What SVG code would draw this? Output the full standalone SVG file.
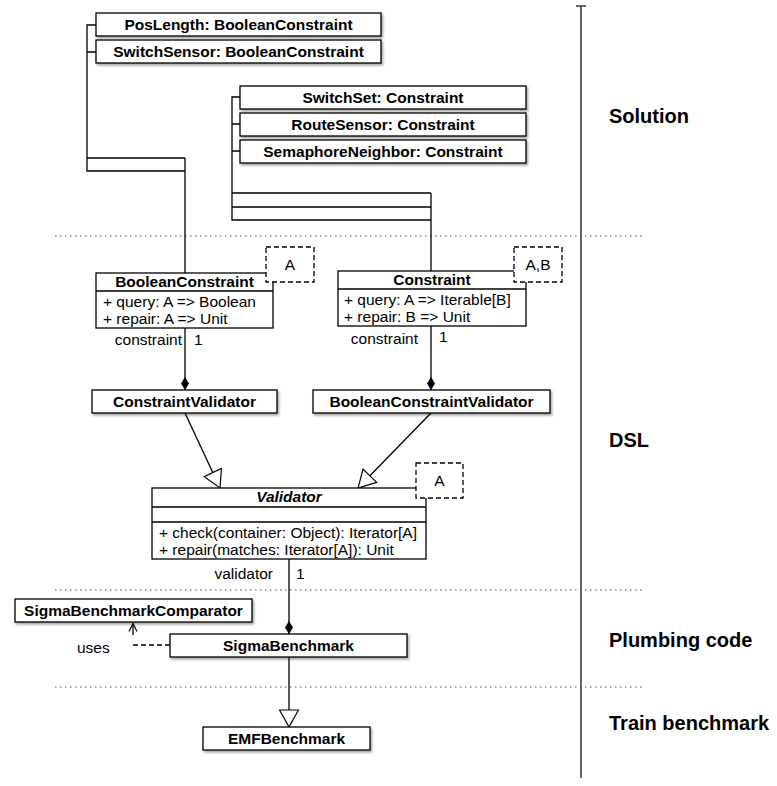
<svg xmlns="http://www.w3.org/2000/svg" width="777" height="786" viewBox="0 0 777 786">
<defs>
<style>
.box{fill:#fff;stroke:#000;stroke-width:1.3}
.sh{filter:url(#shadow)}
.tpl{fill:#fff;stroke:#000;stroke-width:1.3;stroke-dasharray:5,3}
.name{font-family:"Liberation Sans",Arial,Helvetica,sans-serif;font-size:15.5px;font-weight:bold;text-anchor:middle;fill:#000}
.ital{font-style:italic}
.txt{font-family:"Liberation Sans",Arial,Helvetica,sans-serif;font-size:15.5px;fill:#000}
.end{text-anchor:end}
.mid{text-anchor:middle}
.sec{font-family:"Liberation Sans",Arial,Helvetica,sans-serif;font-size:20px;font-weight:bold;fill:#000}
.ln{fill:none;stroke:#000;stroke-width:1.3}
.dash{stroke-dasharray:5,3}
.dot{fill:none;stroke:#555;stroke-width:1.2;stroke-dasharray:1.5,3.5}
.axis{fill:none;stroke:#333;stroke-width:1.5}
</style>
<filter id="shadow" x="-10%" y="-40%" width="125%" height="200%">
<feDropShadow dx="1.5" dy="2" stdDeviation="1.2" flood-color="#000" flood-opacity="0.35"/>
</filter>
<marker id="diamond" markerUnits="userSpaceOnUse" viewBox="0 0 13 8" refX="13" refY="4" markerWidth="13" markerHeight="8" orient="auto">
<path d="M0,4 L6.5,0 L13,4 L6.5,8 Z" fill="#000" stroke="none"/>
</marker>
<marker id="tri" markerUnits="userSpaceOnUse" viewBox="-1 -1 19 21" refX="17" refY="9.5" markerWidth="19" markerHeight="21" orient="auto">
<path d="M0,0 L17,9.5 L0,19 Z" fill="#fff" stroke="#000" stroke-width="1.2" stroke-dasharray="none"/>
</marker>
<marker id="open" markerUnits="userSpaceOnUse" viewBox="-1 -1 10 10" refX="8" refY="4" markerWidth="10" markerHeight="10" orient="auto">
<path d="M0,0 L8,4 L0,8" fill="none" stroke="#000" stroke-width="1.2" stroke-dasharray="none"/>
</marker>
</defs>
<rect width="777" height="786" fill="#fff"/>

<g id="layers">
<path class="axis" d="M581,6 V778 M576,6 H586"/>
<path class="dot" d="M55,236 H645 M55,590 H645 M55,687 H645"/>
<text class="sec" x="609" y="123">Solution</text>
<text class="sec" x="609" y="447">DSL</text>
<text class="sec" x="609" y="647">Plumbing code</text>
<text class="sec" x="609" y="730">Train benchmark</text>
</g>

<g id="connectors">
<path class="ln" d="M96,25 H87 V171 H185 M87,158 H185 M96,52 H87 M185,158 V273"/>
<path class="ln" d="M240,97 H232 V220 H431 M232,193 H431 M232,207 H431 M240,124 H232 M240,151 H232 M431,193 V271"/>
<path class="ln" d="M185,328 V390" marker-end="url(#diamond)"/>
<path class="ln" d="M431,326 V390" marker-end="url(#diamond)"/>
<path class="ln" d="M185,413 L220,488" marker-end="url(#tri)"/>
<path class="ln" d="M431,413 L358,488" marker-end="url(#tri)"/>
<path class="ln" d="M289,559 V634" marker-end="url(#diamond)"/>
<path class="ln" d="M289,657 V727" marker-end="url(#tri)"/>
<path class="ln dash" d="M170,645 H133"/>
<path class="ln" d="M133,635 V623.5" marker-end="url(#open)"/>
<text class="txt end" x="182" y="345">constraint</text>
<text class="txt" x="194" y="345">1</text>
<text class="txt end" x="418" y="344">constraint</text>
<text class="txt" x="439" y="342">1</text>
<text class="txt end" x="273" y="579">validator</text>
<text class="txt" x="296" y="579">1</text>
<text class="txt" x="77" y="653">uses</text>
</g>

<g id="PosLength">
<rect class="box sh" x="96" y="13" width="285" height="23"/>
<text class="name" x="238.5" y="30">PosLength: BooleanConstraint</text>
</g>
<g id="SwitchSensor">
<rect class="box sh" x="96" y="40" width="285" height="23"/>
<text class="name" x="238.5" y="57">SwitchSensor: BooleanConstraint</text>
</g>
<g id="SwitchSet">
<rect class="box sh" x="240" y="86" width="286" height="23"/>
<text class="name" x="383" y="103">SwitchSet: Constraint</text>
</g>
<g id="RouteSensor">
<rect class="box sh" x="240" y="113" width="286" height="23"/>
<text class="name" x="383" y="130">RouteSensor: Constraint</text>
</g>
<g id="SemaphoreNeighbor">
<rect class="box sh" x="240" y="140" width="286" height="23"/>
<text class="name" x="383" y="157">SemaphoreNeighbor: Constraint</text>
</g>

<g id="BooleanConstraint">
<rect class="box" x="96" y="273" width="177" height="55"/>
<path class="ln" d="M96,291 H273"/>
<text class="name" x="184.5" y="287">BooleanConstraint</text>
<text class="txt" x="103" y="307">+ query: A =&gt; Boolean</text>
<text class="txt" x="103" y="324">+ repair: A =&gt; Unit</text>
<rect class="tpl" x="266" y="247" width="48" height="35"/>
<text class="txt mid" x="290" y="270">A</text>
</g>

<g id="Constraint">
<rect class="box" x="338" y="271" width="188" height="55"/>
<path class="ln" d="M338,289 H526"/>
<text class="name" x="432" y="285">Constraint</text>
<text class="txt" x="344" y="305">+ query: A =&gt; Iterable[B]</text>
<text class="txt" x="344" y="322">+ repair: B =&gt; Unit</text>
<rect class="tpl" x="514" y="247" width="48" height="35"/>
<text class="txt mid" x="538" y="270">A,B</text>
</g>

<g id="ConstraintValidator">
<rect class="box sh" x="92" y="390" width="185" height="23"/>
<text class="name" x="184.5" y="407">ConstraintValidator</text>
</g>
<g id="BooleanConstraintValidator">
<rect class="box sh" x="313" y="390" width="237" height="23"/>
<text class="name" x="431.5" y="407">BooleanConstraintValidator</text>
</g>

<g id="Validator">
<rect class="box" x="152" y="488" width="274" height="71"/>
<path class="ln" d="M152,507 H426 M152,522 H426"/>
<text class="name ital" x="289" y="502">Validator</text>
<text class="txt" x="159" y="538">+ check(container: Object): Iterator[A]</text>
<text class="txt" x="159" y="555">+ repair(matches: Iterator[A]): Unit</text>
<rect class="tpl" x="416" y="463" width="47" height="35"/>
<text class="txt mid" x="439.5" y="486">A</text>
</g>

<g id="SigmaBenchmarkComparator">
<rect class="box sh" x="15" y="599" width="237" height="23"/>
<text class="name" x="133.5" y="616">SigmaBenchmarkComparator</text>
</g>
<g id="SigmaBenchmark">
<rect class="box sh" x="170" y="634" width="237" height="23"/>
<text class="name" x="288.5" y="651">SigmaBenchmark</text>
</g>
<g id="EMFBenchmark">
<rect class="box sh" x="203" y="727" width="167" height="23"/>
<text class="name" x="286.5" y="744">EMFBenchmark</text>
</g>
</svg>
